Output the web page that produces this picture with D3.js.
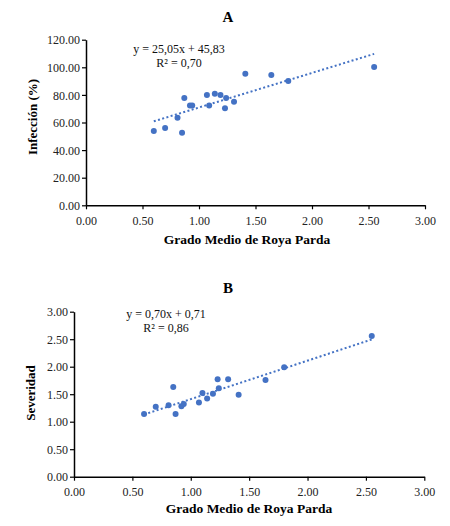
<!DOCTYPE html>
<html>
<head>
<meta charset="utf-8">
<script src="https://cdn.jsdelivr.net/npm/d3@7"></script>
<style>
  body { margin: 0; background: #fff; }
  svg { display: block; font-family: "Liberation Serif", "Times New Roman", serif; }
</style>
</head>
<body>
<svg id="chart" width="450" height="526"></svg>
<script>
// Grado medio de roya parda (eje x común)
const gradoA = [0.60, 0.70, 0.81, 0.85, 0.87, 0.92, 0.94, 1.07, 1.09, 1.14, 1.19, 1.24, 1.23, 1.31, 1.41, 1.64, 1.79, 2.55];
const infeccion = [53.8, 56.0, 63.5, 52.6, 77.7, 72.4, 72.4, 79.9, 72.4, 80.9, 79.9, 77.7, 70.3, 75.1, 95.4, 94.4, 90.1, 100.2];

const gradoB = [0.60, 0.70, 0.81, 0.85, 0.87, 0.92, 0.94, 1.07, 1.10, 1.14, 1.19, 1.23, 1.24, 1.32, 1.41, 1.64, 1.80, 2.55];
const severidad = [1.14, 1.27, 1.30, 1.63, 1.14, 1.28, 1.32, 1.35, 1.52, 1.42, 1.51, 1.77, 1.61, 1.77, 1.49, 1.76, 1.99, 2.56];

// tendencias lineales (texto de la figura)
const trendA = { m: 25.05, b: 45.83, label1: 'y = 25,05x + 45,83', label2: 'R² = 0,70' };
const trendB = { m: 0.70, b: 0.71, label1: 'y = 0,70x + 0,71', label2: 'R² = 0,86' };

const xTicks = [0, 0.5, 1, 1.5, 2, 2.5, 3];
const yTicksA = [0, 20, 40, 60, 80, 100, 120];
const yTicksB = [0, 0.5, 1, 1.5, 2, 2.5, 3];

const BLUE = '#4472c4';
const svg = d3.select('#chart');

function drawPanel(cfg) {
    const x = d3.scaleLinear().domain([0, 3]).range([cfg.left, cfg.right]);
    const y = d3.scaleLinear().domain([0, cfg.yMax]).range([cfg.bottom, cfg.top]);
    const g = svg.append('g');

    // título
    g.append('text')
        .attr('x', cfg.titleX).attr('y', cfg.titleY)
        .attr('text-anchor', 'middle')
        .attr('font-size', '15px').attr('font-weight', 'bold')
        .text(cfg.title);

    // ejes
    const xAxis = g.append('g')
        .attr('transform', `translate(0,${cfg.bottom})`)
        .call(d3.axisBottom(x).tickValues(xTicks).tickFormat(d3.format('.2f')).tickSize(4).tickSizeOuter(0));
    const yAxis = g.append('g')
        .attr('transform', `translate(${cfg.left},0)`)
        .call(d3.axisLeft(y).tickValues(cfg.yTicks).tickFormat(d3.format('.2f')).tickSize(4).tickSizeOuter(0));

    [xAxis, yAxis].forEach(a => {
        a.select('.domain').attr('stroke', '#000').attr('stroke-width', 1.5);
        a.selectAll('.tick line').attr('stroke', '#000').attr('stroke-width', 1.2);
        a.selectAll('.tick text')
            .attr('font-family', '"Liberation Serif", serif')
            .attr('font-size', '12px').attr('fill', '#222');
    });
    xAxis.selectAll('.tick text').attr('dy', '1.05em');
    yAxis.selectAll('.tick text').attr('dy', '0.35em').attr('x', -6);

    // etiquetas de ejes
    g.append('text')
        .attr('x', cfg.xLabelX).attr('y', cfg.xLabelY)
        .attr('text-anchor', 'middle')
        .attr('font-size', '13.5px').attr('font-weight', 'bold')
        .text('Grado Medio de Roya Parda');

    g.append('text')
        .attr('transform', `translate(${cfg.yLabelX},${cfg.yLabelY}) rotate(-90)`)
        .attr('text-anchor', 'middle')
        .attr('font-size', '13px').attr('font-weight', 'bold')
        .text(cfg.yLabel);

    // línea de tendencia punteada
    const xs = d3.extent(cfg.xs);
    g.append('line')
        .attr('x1', x(xs[0])).attr('y1', y(cfg.trend.m * xs[0] + cfg.trend.b))
        .attr('x2', x(xs[1])).attr('y2', y(cfg.trend.m * xs[1] + cfg.trend.b))
        .attr('stroke', BLUE).attr('stroke-width', 2)
        .attr('stroke-dasharray', '2,2.4');

    // puntos
    g.selectAll('circle')
        .data(cfg.xs.map((v, i) => [v, cfg.ys[i]]))
        .enter()
        .append('circle')
        .attr('cx', d => x(d[0]))
        .attr('cy', d => y(d[1]))
        .attr('r', 3)
        .attr('fill', BLUE);

    // ecuación
    g.append('text')
        .attr('x', cfg.eqX).attr('y', cfg.eqY)
        .attr('text-anchor', 'middle').attr('font-size', '12px').attr('fill', '#111')
        .text(cfg.trend.label1);
    g.append('text')
        .attr('x', cfg.eqX).attr('y', cfg.eqY + 13.5)
        .attr('text-anchor', 'middle').attr('font-size', '12px').attr('fill', '#111')
        .text(cfg.trend.label2);
}

drawPanel({
    title: 'A', titleX: 228, titleY: 22,
    left: 86, right: 425, top: 39.7, bottom: 205.3,
    yMax: 120, yTicks: yTicksA,
    xs: gradoA, ys: infeccion, trend: trendA,
    yLabel: 'Infección (%)', yLabelX: 37, yLabelY: 117,
    xLabelX: 247, xLabelY: 244,
    eqX: 179, eqY: 53
});

drawPanel({
    title: 'B', titleX: 228, titleY: 293,
    left: 74, right: 424.3, top: 311.7, bottom: 476.7,
    yMax: 3, yTicks: yTicksB,
    xs: gradoB, ys: severidad, trend: trendB,
    yLabel: 'Severidad', yLabelX: 35, yLabelY: 393,
    xLabelX: 249, xLabelY: 513,
    eqX: 166, eqY: 318
});
</script>
</body>
</html>
